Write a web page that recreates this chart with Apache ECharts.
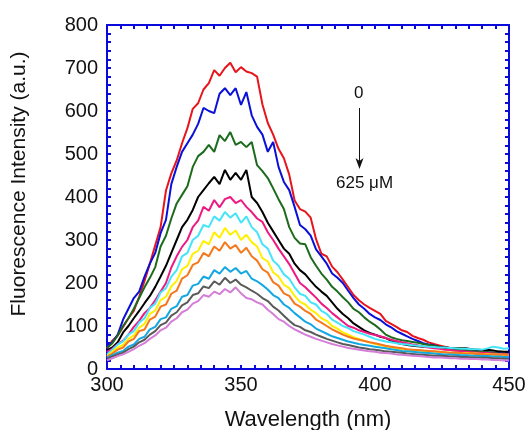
<!DOCTYPE html>
<html>
<head>
<meta charset="utf-8">
<script src="https://cdn.jsdelivr.net/npm/echarts@6/dist/echarts.min.js"></script>
<style>
html,body{margin:0;padding:0;background:#fff;}
#chart{width:529px;height:430px;}
</style>
</head>
<body>
<div id="chart"></div>
<script>
// Wavelengths (nm), 300..450 step 2
const wavelengths = [300,302,304,306,308,310,312,314,316,318,320,322,324,326,328,330,332,334,336,338,340,342,344,346,348,350,352,354,356,358,360,362,364,366,368,370,372,374,376,378,380,382,384,386,388,390,392,394,396,398,400,402,404,406,408,410,412,414,416,418,420,422,424,426,428,430,432,434,436,438,440,442,444,446,448,450];

const xTicks = [300, 350, 400, 450];
const yTicks = [0,100,200,300,400,500,600,700,800];

const redSeries = [48,66,78,98,118,135,168,205,245,288,330,415,455,485,525,560,605,618,650,665,695,682,700,712,690,702,692,688,680,615,572,545,512,490,452,392,372,366,352,302,268,262,238,225,208,190,172,160,150,142,135,128,112,105,98,90,86,77,72,68,62,58,55,52,49,47,44,43,42,40,41,38,37,36,35,34];
const blueSeries = [55,62,80,115,140,165,180,215,245,270,316,347,430,470,505,525,545,570,607,600,595,640,653,637,653,614,644,590,563,545,505,528,470,435,416,377,335,325,310,278,262,245,222,212,200,182,165,150,140,128,120,114,104,97,88,82,76,70,65,60,57,55,52,50,48,46,44,44,42,41,40,39,38,37,36,35];
const greenSeries = [49,60,78,100,118,140,165,190,212,237,285,310,350,385,405,425,470,495,505,521,505,544,530,551,521,528,516,528,474,460,444,420,395,372,330,305,292,290,260,240,222,208,191,180,167,155,140,132,120,110,102,92,80,74,70,67,65,63,61,58,56,54,52,50,48,46,45,44,42,41,40,39,38,36,35,34];
const blackSeries = [44,50,62,85,100,118,135,153,170,191,215,240,270,300,330,347,370,400,416,432,447,430,463,440,456,440,463,400,386,365,340,320,300,280,268,245,230,220,205,191,180,170,155,140,128,118,106,98,90,84,80,75,72,66,61,58,56,54,53,52,51,51,50,50,49,49,48,48,46,45,44,45,43,41,40,40];
const magentaSeries = [40,47,58,66,80,98,112,130,142,160,180,200,236,262,284,300,330,345,377,368,393,376,395,400,386,393,377,365,350,342,318,300,280,262,244,222,200,190,178,166,152,142,130,120,110,100,96,90,86,82,79,76,72,68,65,62,60,57,55,52,50,48,47,45,44,42,41,40,39,38,38,37,36,35,35,34];
const cyanSeries = [34,45,57,64,80,88,108,118,142,152,178,188,215,230,262,270,300,310,335,330,355,345,365,352,362,340,355,330,318,290,280,252,240,220,210,190,175,170,155,150,135,128,115,108,100,95,88,84,80,75,70,67,64,62,60,58,57,55,54,53,52,51,50,50,49,48,47,47,46,46,45,48,52,50,47,48];
const yellowSeries = [30,40,50,56,70,78,96,105,128,136,160,168,192,205,232,240,268,275,298,290,318,305,328,312,322,300,312,295,285,258,250,225,215,196,188,170,156,150,138,130,118,112,100,94,85,80,74,70,66,62,58,56,53,50,48,46,45,44,43,42,41,40,40,39,38,38,37,37,36,36,35,35,34,34,33,33];
const orangeSeries = [28,36,45,50,64,70,88,92,115,122,145,150,175,182,210,218,242,248,270,262,285,275,295,280,288,270,282,262,252,232,224,202,194,176,170,152,145,135,128,115,108,100,92,86,80,75,71,68,65,62,60,57,54,52,50,48,46,45,44,43,42,41,40,39,38,38,37,36,36,35,35,34,34,33,33,33];
const skySeries = [26,32,38,42,52,57,70,75,92,98,116,120,140,146,168,172,194,198,215,210,230,222,237,226,235,222,228,210,204,195,185,172,165,150,142,130,120,110,104,94,88,82,76,72,68,64,61,58,56,54,52,50,48,46,44,42,41,40,39,38,37,36,35,34,34,33,32,32,31,31,30,30,29,29,28,28];
const graySeries = [24,29,34,38,46,52,62,68,80,88,102,108,124,132,148,155,172,176,192,188,204,196,212,200,208,196,190,182,175,165,158,145,136,124,112,102,98,90,86,80,75,70,66,62,58,56,53,50,48,46,45,43,41,40,39,38,36,35,34,33,32,31,31,30,29,29,28,28,27,27,26,26,25,25,24,24];
const violetSeries = [20,25,30,34,40,46,54,60,70,78,90,96,110,118,132,138,152,158,172,168,180,174,186,178,190,176,165,162,155,150,138,128,116,110,100,92,86,80,75,70,66,62,58,55,52,49,47,45,43,41,40,38,37,36,34,33,32,31,30,29,28,27,27,26,25,25,24,24,23,23,22,22,21,21,20,20];

const seriesList = [
  {name: '0 µM', values: redSeries, color: '#e8141c'},
  {name: 'c2', values: blueSeries, color: '#0a10d8'},
  {name: 'c3', values: greenSeries, color: '#1c6b1c'},
  {name: 'c4', values: blackSeries, color: '#000000'},
  {name: 'c5', values: magentaSeries, color: '#ee1a84'},
  {name: 'c6', values: cyanSeries, color: '#45e4f8'},
  {name: 'c7', values: yellowSeries, color: '#fff000'},
  {name: 'c8', values: orangeSeries, color: '#f5781c'},
  {name: 'c9', values: skySeries, color: '#14a8e2'},
  {name: 'c10', values: graySeries, color: '#5a5a5a'},
  {name: '625 µM', values: violetSeries, color: '#d47ed8'}
];

const FONT = '"Liberation Sans", Arial, sans-serif';
const frameColor = '#0a0adc';

const chart = echarts.init(document.getElementById('chart'), null, {renderer: 'canvas'});

const tickStyle = {show: true, inside: true, length: 4, lineStyle: {color: frameColor, width: 2}};
const minorStyle = {show: true, length: 4, lineStyle: {color: frameColor, width: 2}};

const option = {
  animation: false,
  backgroundColor: '#ffffff',
  grid: {left: 107, right: 20, top: 25, bottom: 61, containLabel: false, outerBoundsMode: 'none'},
  xAxis: [
    {
      type: 'value', min: xTicks[0], max: xTicks[xTicks.length - 1], interval: 50,
      position: 'bottom',
      name: 'Wavelength (nm)', nameLocation: 'middle', nameGap: 40,
      nameTextStyle: {fontFamily: FONT, fontSize: 22, color: '#111'},
      axisLine: {show: true, onZero: false, lineStyle: {color: frameColor, width: 2}},
      axisTick: tickStyle,
      minorTick: Object.assign({splitNumber: 10}, minorStyle),
      splitLine: {show: false},
      axisLabel: {fontFamily: FONT, fontSize: 20, color: '#111', margin: 6,
        formatter: v => xTicks.indexOf(v) >= 0 ? String(v) : ''}
    },
    {
      type: 'value', min: xTicks[0], max: xTicks[xTicks.length - 1], interval: 50,
      position: 'top',
      axisLine: {show: true, onZero: false, lineStyle: {color: frameColor, width: 2}},
      axisTick: tickStyle,
      minorTick: Object.assign({splitNumber: 10}, minorStyle),
      splitLine: {show: false},
      axisLabel: {show: false}
    }
  ],
  yAxis: [
    {
      type: 'value', min: yTicks[0], max: yTicks[yTicks.length - 1], interval: 100,
      position: 'left',
      axisLine: {show: true, onZero: false, lineStyle: {color: frameColor, width: 2}},
      axisTick: tickStyle,
      minorTick: Object.assign({splitNumber: 5}, minorStyle),
      splitLine: {show: false},
      axisLabel: {fontFamily: FONT, fontSize: 20, color: '#111', margin: 9}
    },
    {
      type: 'value', min: yTicks[0], max: yTicks[yTicks.length - 1], interval: 100,
      position: 'right',
      axisLine: {show: true, onZero: false, lineStyle: {color: frameColor, width: 2}},
      axisTick: tickStyle,
      minorTick: Object.assign({splitNumber: 5}, minorStyle),
      splitLine: {show: false},
      axisLabel: {show: false}
    }
  ],
  series: seriesList.map(s => ({
    name: s.name,
    type: 'line',
    xAxisIndex: 0, yAxisIndex: 0,
    showSymbol: false,
    symbol: 'none',
    lineStyle: {color: s.color, width: 2},
    itemStyle: {color: s.color},
    data: wavelengths.map((w, i) => [w, s.values[i]])
  })),
  graphic: [
    {type: 'text', x: 19, y: 184, rotation: Math.PI / 2,
      style: {text: 'Fluorescence Intensity (a.u.)', font: '21px ' + FONT, fill: '#111', align: 'center', verticalAlign: 'middle'}},
    {type: 'text', left: 354, top: 85, style: {text: '0', font: '17px ' + FONT, fill: '#111'}},
    {type: 'line', shape: {x1: 359.5, y1: 108, x2: 359.5, y2: 164}, style: {stroke: '#111', lineWidth: 1}},
    {type: 'polygon', shape: {points: [[359.5, 169], [355.5, 158], [359.5, 161], [363.5, 158]]}, style: {fill: '#111'}},
    {type: 'text', left: 336, top: 175, style: {text: '625 μM', font: '17px ' + FONT, fill: '#111'}}
  ]
};
chart.setOption(option);
</script>
</body>
</html>
